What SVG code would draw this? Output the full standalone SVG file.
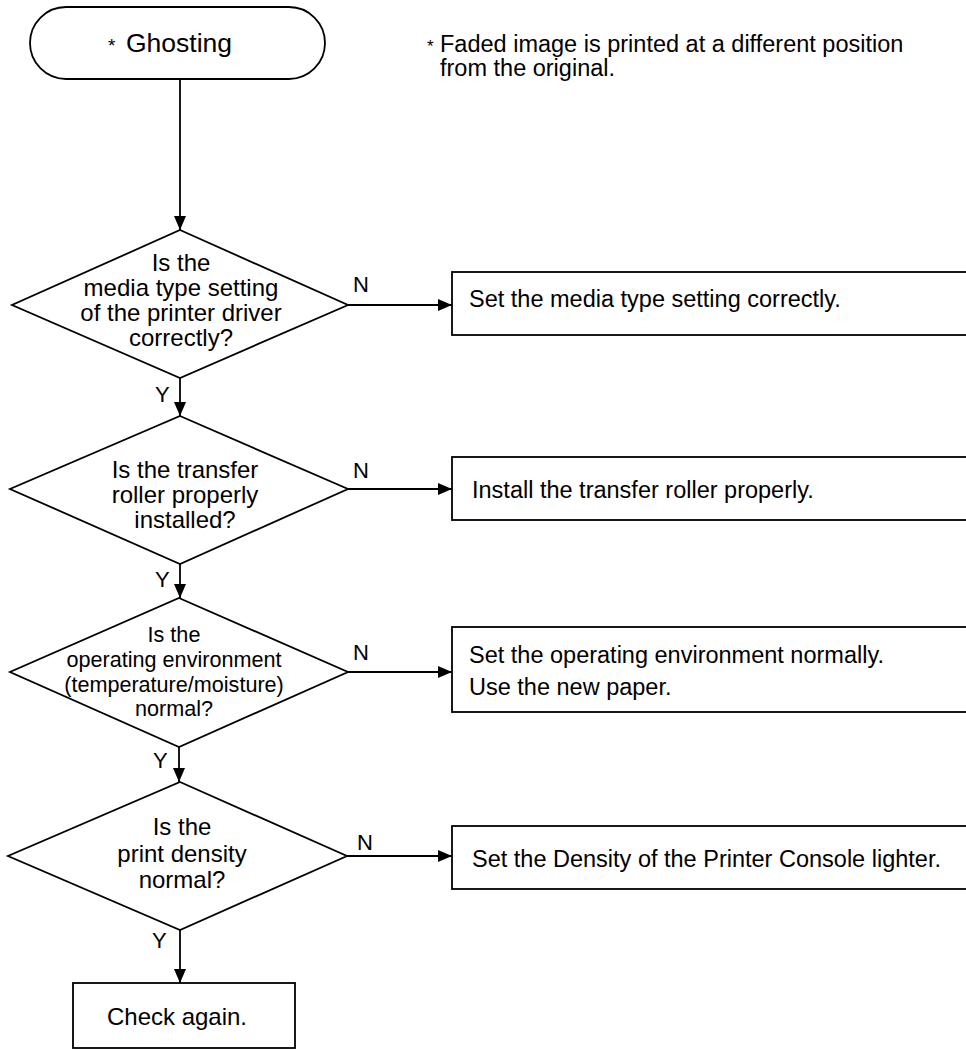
<svg xmlns="http://www.w3.org/2000/svg" width="966" height="1050" viewBox="0 0 966 1050">
<style>
.s{fill:#fff;stroke:#000;stroke-width:1.8}
.c{fill:none;stroke:#000;stroke-width:1.8}
text{font-family:"Liberation Sans",Arial,sans-serif;fill:#000}
.t{font-size:24px;text-anchor:middle}
.t3{font-size:21.6px;text-anchor:middle}
.b{font-size:23.5px}
.l{font-size:22px}
</style>
<defs>
<marker id="ah" markerUnits="userSpaceOnUse" markerWidth="14" markerHeight="12" refX="14" refY="6" orient="auto">
<path d="M0,0 L14,6 L0,12 z" fill="#000"/>
</marker>
</defs>
<rect width="966" height="1050" fill="#fff"/>
<g id="note">
<text x="427" y="52" font-size="23.5"><tspan font-size="17">*</tspan><tspan x="440">Faded image is printed at a different position</tspan></text>
<text x="440" y="76" font-size="23.5">from the original.</text>
</g>
<g id="start">
<rect class="s" x="30" y="7" width="295" height="72" rx="36" ry="36"/>
<text y="52"><tspan x="108" font-size="19">*</tspan><tspan x="126" font-size="26.5">Ghosting</tspan></text>
</g>
<g id="d1">
<polygon class="s" points="180,230 348,305 180,378 12,305"/>
<text class="t" x="181" y="271">Is the</text>
<text class="t" x="181" y="296">media type setting</text>
<text class="t" x="181" y="321">of the printer driver</text>
<text class="t" x="181" y="346">correctly?</text>
</g>
<g id="b1">
<rect class="s" x="452" y="272" width="560" height="63"/>
<text class="b" x="469" y="307">Set the media type setting correctly.</text>
</g>
<g id="d2">
<polygon class="s" points="180,416 348,489 180,564 10,489"/>
<text class="t" x="185" y="478">Is the transfer</text>
<text class="t" x="185" y="503">roller properly</text>
<text class="t" x="185" y="528">installed?</text>
</g>
<g id="b2">
<rect class="s" x="452" y="457" width="560" height="63"/>
<text class="b" x="472" y="498">Install the transfer roller properly.</text>
</g>
<g id="d3">
<polygon class="s" points="179,598 348,672 179,747 10,672"/>
<text class="t3" x="174" y="642">Is the</text>
<text class="t3" x="174" y="667">operating environment</text>
<text class="t3" x="174" y="692">(temperature/moisture)</text>
<text class="t3" x="174" y="716">normal?</text>
</g>
<g id="b3">
<rect class="s" x="452" y="627" width="560" height="85"/>
<text class="b" x="469" y="663">Set the operating environment normally.</text>
<text class="b" x="469" y="695">Use the new paper.</text>
</g>
<g id="d4">
<polygon class="s" points="180,782 347,856 180,930 8,856"/>
<text class="t" x="182" y="835">Is the</text>
<text class="t" x="182" y="862">print density</text>
<text class="t" x="182" y="888">normal?</text>
</g>
<g id="b4">
<rect class="s" x="452" y="826" width="560" height="63"/>
<text class="b" x="472" y="867">Set the Density of the Printer Console lighter.</text>
</g>
<g id="end">
<rect class="s" x="73" y="983" width="222" height="65"/>
<text class="t" x="177" y="1025">Check again.</text>
</g>
<g id="connectors">
<line class="c" x1="180" y1="79" x2="180" y2="230" marker-end="url(#ah)"/>
<line class="c" x1="180" y1="378" x2="180" y2="416" marker-end="url(#ah)"/>
<line class="c" x1="180" y1="564" x2="180" y2="598" marker-end="url(#ah)"/>
<line class="c" x1="179" y1="747" x2="179" y2="782" marker-end="url(#ah)"/>
<line class="c" x1="180" y1="930" x2="180" y2="983" marker-end="url(#ah)"/>
<line class="c" x1="348" y1="305" x2="452" y2="305" marker-end="url(#ah)"/>
<line class="c" x1="348" y1="489" x2="452" y2="489" marker-end="url(#ah)"/>
<line class="c" x1="348" y1="672" x2="452" y2="672" marker-end="url(#ah)"/>
<line class="c" x1="347" y1="856" x2="452" y2="856" marker-end="url(#ah)"/>
<text class="l" x="155" y="402">Y</text>
<text class="l" x="155" y="587">Y</text>
<text class="l" x="153" y="768">Y</text>
<text class="l" x="152" y="948">Y</text>
<text class="l" x="353" y="292">N</text>
<text class="l" x="353" y="478">N</text>
<text class="l" x="353" y="660">N</text>
<text class="l" x="357" y="850">N</text>
</g>
</svg>
